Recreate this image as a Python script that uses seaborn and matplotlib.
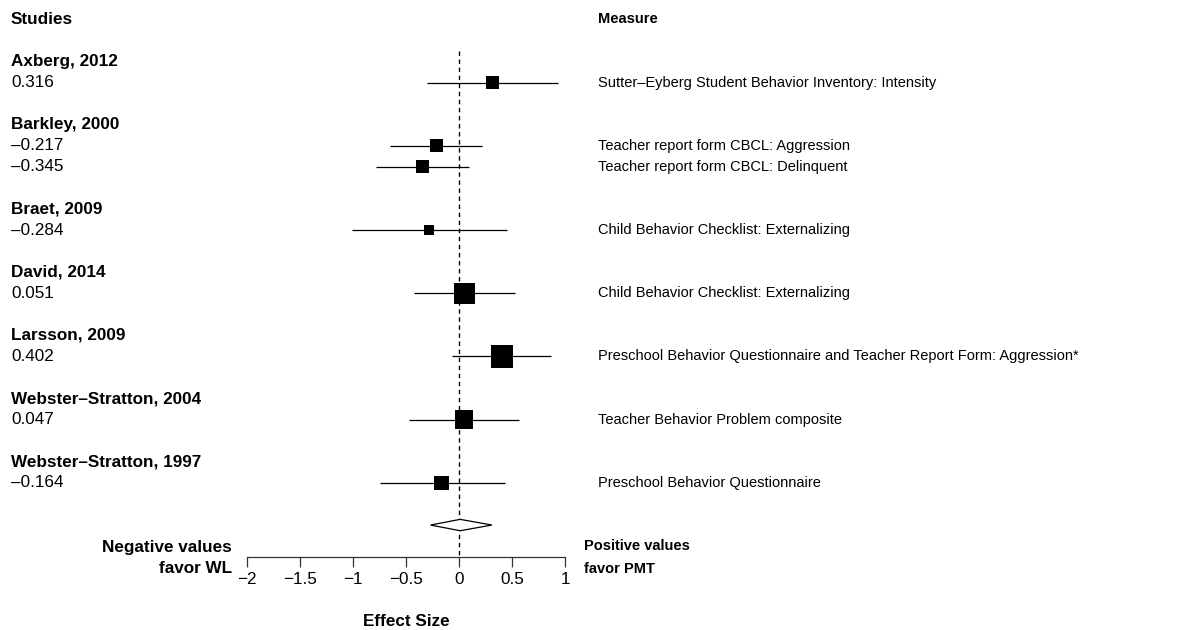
import numpy as np
import pandas as pd
import matplotlib
matplotlib.use("Agg")
import matplotlib.pyplot as plt
import matplotlib.transforms as mtransforms
import seaborn as sns

# study labels and one row per reported outcome
studies = ["Axberg, 2012", "Barkley, 2000", "Braet, 2009", "David, 2014",
           "Larsson, 2009", "Webster\u2013Stratton, 2004", "Webster\u2013Stratton, 1997"]
study_idx = [0, 1, 1, 2, 3, 4, 5, 6]
effect = [0.316, -0.217, -0.345, -0.284, 0.051, 0.402, 0.047, -0.164]
ci_low = [-0.30, -0.65, -0.78, -1.01, -0.43, -0.07, -0.47, -0.75]
ci_high = [0.93, 0.22, 0.09, 0.45, 0.53, 0.87, 0.57, 0.43]
weights = [1.77, 1.69, 1.69, 1.00, 4.28, 4.97, 3.50, 2.16]
measures = ["Sutter\u2013Eyberg Student Behavior Inventory: Intensity",
            "Teacher report form CBCL: Aggression",
            "Teacher report form CBCL: Delinquent",
            "Child Behavior Checklist: Externalizing",
            "Child Behavior Checklist: Externalizing",
            "Preschool Behavior Questionnaire and Teacher Report Form: Aggression*",
            "Teacher Behavior Problem composite",
            "Preschool Behavior Questionnaire"]
pooled = 0.01
pooled_low = -0.27
pooled_high = 0.31
x_ticks = [-2, -1.5, -1, -0.5, 0, 0.5, 1]


def fmt(v):
    return f"{v:.3f}".replace("-", "\u2013")


def main():
    # text lines: study name, then one line per estimate, then a blank line
    name_line = {}
    est_line = []
    line = 0
    for s in range(len(studies)):
        name_line[s] = line
        line += 1
        for si in study_idx:
            if si == s:
                est_line.append(line)
                line += 1
        line += 1
    df = pd.DataFrame({"study": study_idx, "es": effect, "lo": ci_low, "hi": ci_high,
                       "w": weights, "line": est_line, "measure": measures})
    df["side_pt"] = 10 * np.sqrt(df["w"]) * 0.72
    pool_line = line
    axis_line = pool_line + 1.5

    sns.set_theme(style="white")
    plt.rcParams["font.family"] = ["Liberation Sans", "DejaVu Sans"]
    plt.rcParams["text.color"] = "black"
    plt.rcParams["xtick.color"] = "black"
    plt.rcParams["xtick.labelcolor"] = "black"
    fs = 12.3      # left column, axis
    fs_r = 10.5    # right column (drawn narrower in the original)

    fig = plt.figure(figsize=(11.9, 6.3), dpi=100)
    ax = fig.add_axes([0, 0, 1, 1])
    px_per_unit = 105.9
    x0_px = 247.3
    ax.set_xlim(-2 - x0_px / px_per_unit, -2 + (1190 - x0_px) / px_per_unit)
    line_px = 21.07
    top_px = 61.5
    ax.set_ylim((630 - top_px) / line_px, -top_px / line_px)

    # confidence intervals and reference line
    ax.hlines(df["line"], df["lo"], df["hi"], color="black", lw=0.9)
    ax.vlines(0, -0.5, axis_line, color="black", lw=1, linestyles=(0, (3.2, 2.6)))

    # weighted boxes
    size_map = {w: s ** 2 for w, s in zip(df["w"], df["side_pt"])}
    sns.scatterplot(data=df, x="es", y="line", size="w", sizes=size_map, marker="s",
                    color="black", linewidth=0, legend=False, ax=ax, zorder=3)

    # pooled diamond
    h = 0.27
    ax.fill([pooled_low, pooled, pooled_high, pooled],
            [pool_line, pool_line - h, pool_line, pool_line + h],
            facecolor="white", edgecolor="black", lw=0.9, zorder=3)

    # x axis
    for side in ["top", "right", "left"]:
        ax.spines[side].set_visible(False)
    ax.spines["bottom"].set_position(("data", axis_line))
    ax.spines["bottom"].set_bounds(-2, 1)
    ax.spines["bottom"].set_color("#333333")
    ax.spines["bottom"].set_linewidth(0.9)
    ax.set_xticks(x_ticks)
    ax.set_xticklabels([str(t).replace("-", "\u2212") for t in x_ticks], fontsize=fs)
    ax.tick_params(axis="x", direction="out", length=7.2, width=0.9, color="#333333",
                   labelcolor="black", pad=3.7, bottom=True)
    ax.set_yticks([])
    ax.set_xlabel("")
    ax.set_ylabel("")
    ax.text(-0.5, axis_line + 3.1, "Effect Size", fontsize=fs, fontweight="bold",
            ha="center", va="center")

    # text columns
    tr = mtransforms.blended_transform_factory(fig.transFigure, ax.transData)
    left_x = 11 / 1190
    meas_x = 598 / 1190
    ax.text(left_x, -2, "Studies", transform=tr, fontsize=fs, fontweight="bold", va="center")
    ax.text(meas_x, -2, "Measure", transform=tr, fontsize=fs_r, fontweight="bold",
            va="center")
    for s, name in enumerate(studies):
        ax.text(left_x, name_line[s], name, transform=tr, fontsize=fs,
                fontweight="bold", va="center")
    for _, r in df.iterrows():
        ax.text(left_x, r["line"], fmt(r["es"]), transform=tr, fontsize=fs, va="center")
        ax.text(meas_x, r["line"], r["measure"], transform=tr, fontsize=fs_r,
                va="center")

    ax.text(232 / 1190, axis_line - 0.45, "Negative values", transform=tr, fontsize=fs,
            fontweight="bold", ha="right", va="center")
    ax.text(232 / 1190, axis_line + 0.55, "favor WL", transform=tr, fontsize=fs,
            fontweight="bold", ha="right", va="center")
    ax.text(584 / 1190, axis_line - 0.5, "Positive values", transform=tr, fontsize=fs_r,
            fontweight="bold", ha="left", va="center")
    ax.text(584 / 1190, axis_line + 0.6, "favor PMT", transform=tr, fontsize=fs_r,
            fontweight="bold", ha="left", va="center")

    fig.savefig("out.png", dpi=100, facecolor="white")


if __name__ == "__main__":
    main()
